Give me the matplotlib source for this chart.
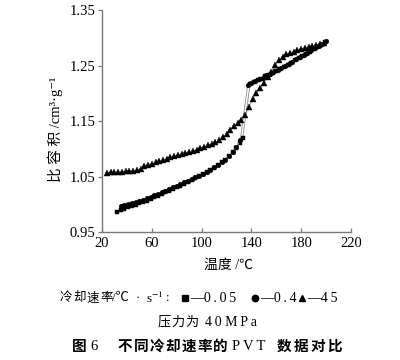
import matplotlib
matplotlib.use('Agg')
import matplotlib.pyplot as plt
from matplotlib.lines import Line2D

# ---------------- data ----------------
sq_T = [32, 35, 38, 41, 44, 47, 50, 53, 56, 59, 62, 65, 68, 71, 74, 77, 80, 83, 86, 89,
        92, 95, 98, 101, 104, 107, 110, 113, 116, 119, 122, 125, 128, 131, 133,
        139, 142, 145, 148, 151, 154, 157, 160, 163, 166, 169, 172, 175, 178, 181,
        184, 187, 190, 193, 196, 199]
sq_V = [0.987, 0.990, 0.992, 0.995, 0.997, 1.000, 1.002, 1.005, 1.007, 1.010, 1.013, 1.016,
        1.019, 1.022, 1.025, 1.028, 1.031, 1.034, 1.037, 1.041, 1.044, 1.048, 1.051, 1.055,
        1.058, 1.062, 1.066, 1.071, 1.076, 1.081, 1.087, 1.094, 1.102, 1.111, 1.120,
        1.218, 1.221, 1.224, 1.227, 1.231, 1.234, 1.238, 1.241, 1.245, 1.248, 1.252,
        1.256, 1.260, 1.264, 1.268, 1.272, 1.276, 1.280, 1.284, 1.288, 1.293]

ci_T = [35, 38, 41, 44, 47, 50, 53, 56, 59, 62, 65, 68, 71, 74, 77, 80, 83, 86, 89, 92,
        95, 98, 101, 104, 107, 110, 113, 116, 119, 122, 125, 128, 131,
        137, 140, 143, 146, 149, 152, 155, 158, 161, 164, 167, 170, 173, 176, 179,
        182, 185, 188, 191, 194, 197, 200]
ci_V = [0.997, 0.999, 1.001, 1.003, 1.005, 1.007, 1.009, 1.011, 1.014, 1.017, 1.019, 1.022,
        1.025, 1.028, 1.031, 1.034, 1.037, 1.040, 1.043, 1.046, 1.049, 1.052, 1.056, 1.059,
        1.063, 1.067, 1.071, 1.076, 1.081, 1.087, 1.094, 1.103, 1.116,
        1.216, 1.220, 1.223, 1.226, 1.229, 1.233, 1.236, 1.240, 1.243, 1.247, 1.250,
        1.254, 1.258, 1.262, 1.266, 1.270, 1.274, 1.278, 1.282, 1.286, 1.290, 1.295]

tr_T = [24, 27, 30, 33, 36, 39, 42, 45, 48, 51, 54, 57, 60, 63, 66, 69, 72, 75, 78, 81,
        84, 87, 90, 93, 96, 99, 102, 105, 108, 111, 114, 117, 120, 123, 126, 129, 132,
        135, 138, 141, 144, 147, 150, 153, 156, 159, 162, 165, 168, 171, 174, 177, 180,
        183, 186, 189, 192, 195, 198]
tr_V = [1.057, 1.058, 1.058, 1.059, 1.059, 1.060, 1.061, 1.061, 1.062, 1.064,
        1.070, 1.072, 1.074, 1.076, 1.078, 1.080, 1.082, 1.085, 1.087, 1.089,
        1.091, 1.093, 1.095, 1.097, 1.099, 1.102, 1.104, 1.107, 1.109, 1.112,
        1.116, 1.122, 1.127, 1.134, 1.141, 1.147, 1.153, 1.161, 1.176, 1.190,
        1.201, 1.210, 1.220, 1.230, 1.239, 1.251, 1.261, 1.266, 1.271, 1.274,
        1.276, 1.279, 1.281, 1.283, 1.285, 1.286, 1.288, 1.290, 1.292]

x_ticks = [20, 60, 100, 140, 180, 220]
y_ticks = [0.95, 1.05, 1.15, 1.25, 1.35]
y_tick_labels = ['0.95', '1.05', '1.15', '1.25', '1.35']
rate_labels = ['0.05', '0.4', '45']

# ---------------- style ----------------
W, H, DPI = 400, 360, 100
SERIF = ['Liberation Serif', 'Noto Sans CJK SC', 'DejaVu Sans']
CJK = ['Noto Sans CJK SC', 'Liberation Serif', 'DejaVu Sans']
plt.rcParams['font.family'] = SERIF
plt.rcParams['mathtext.fontset'] = 'stix'

fig = plt.figure(figsize=(W / DPI, H / DPI), dpi=DPI)
ax = fig.add_axes([102 / W, 1 - 232.3 / H, 249 / W, 221.8 / H])

line_kw = dict(color='#8c8c8c', lw=0.6, mfc='k', mec='k', mew=0.3)
ax.plot(sq_T, sq_V, marker='s', ms=3.0, **line_kw)
ax.plot(ci_T, ci_V, marker='o', ms=3.4, **line_kw)
ax.plot(tr_T, tr_V, marker='^', ms=3.8, **line_kw)

ax.set_xlim(20, 220)
ax.set_ylim(0.95, 1.35)
ax.set_xticks(x_ticks)
ax.set_xticklabels([str(v) for v in x_ticks])
ax.set_yticks(y_ticks)
ax.set_yticklabels(y_tick_labels)

for s in ('top', 'right'):
    ax.spines[s].set_visible(False)
for s in ('left', 'bottom'):
    ax.spines[s].set_color('#7a7a7a')
    ax.spines[s].set_linewidth(1.0)

ax.tick_params(axis='y', direction='out', length=3, width=0.9, color='#7a7a7a',
               pad=1.5, labelsize=10.5)
ax.tick_params(axis='x', direction='in', length=3, width=0.9, color='#7a7a7a',
               pad=3.5, labelsize=10.5)

ax.set_xlabel('温度 /℃', fontsize=10)
ax.xaxis.set_label_coords((228 - 102) / 249, (232.3 - 265) / 221.8)
ax.xaxis.label.set_va('center')
ax.set_ylabel('比 容 积 /cm³·g⁻¹', fontsize=10.5)
ax.yaxis.set_label_coords((55 - 102) / 249, (232.3 - 129) / 221.8)
ax.yaxis.label.set_va('center')

# ---------------- legend / caption rows ----------------
renderer = fig.canvas.get_renderer()
TS = '\u2009'  # thin space used as letter spacing


def tracked(x, y, s, size, fam, track=0.0, weight='normal'):
    cx = x
    for ch in s:
        t = fig.text(cx / W, 1 - y / H, ch, fontsize=size, family=fam,
                     weight=weight, ha='left', va='center')
        w = t.get_window_extent(renderer).width
        cx += w + track
    return cx


def spaced(s):
    return TS.join(s)


def marker(x, y, m, ms):
    fig.add_artist(Line2D([x / W], [1 - y / H], marker=m, ms=ms, color='k',
                          mfc='k', mec='k', ls='none', transform=fig.transFigure))


ly = 298
tracked(60, ly, '冷却速率', 9, CJK, track=1.0)
fig.text(112 / W, 1 - ly / H, '/℃', fontsize=9.5, ha='left', va='center')
fig.text(138 / W, 1 - ly / H, '·', fontsize=9, ha='center', va='center')
fig.text(146 / W, 1 - ly / H, 's$^{-1}$', fontsize=9.5, ha='left', va='center')
fig.text(166 / W, 1 - ly / H, ':', fontsize=9, ha='left', va='center')
marker(185, ly, 's', 4.2)
fig.text(190 / W, 1 - ly / H, '—' + spaced(rate_labels[0]), fontsize=10,
         ha='left', va='center')
marker(255, ly, 'o', 4.6)
fig.text(260 / W, 1 - ly / H, '—' + spaced(rate_labels[1]), fontsize=10,
         ha='left', va='center')
marker(302, ly, '^', 4.8)
fig.text(307 / W, 1 - ly / H, '—' + spaced(rate_labels[2]), fontsize=10,
         ha='left', va='center')

ry = 322
tracked(158, ry, '压力为', 9.5, CJK, track=0.5)
fig.text(205 / W, 1 - ry / H, spaced('40') + ' ' + spaced('MPa'), fontsize=10,
         ha='left', va='center')

cy = 346
tracked(72, cy, '图', 10.5, CJK, weight='bold')
fig.text(90 / W, 1 - cy / H, '6', fontsize=10.5, ha='left', va='center')
tracked(118, cy, '不同冷却速率的', 10.5, CJK, track=1.2, weight='bold')
fig.text(232 / W, 1 - cy / H, spaced('PVT'), fontsize=10.5, ha='left', va='center')
tracked(277, cy, '数据对比', 10.5, CJK, track=2, weight='bold')

fig.savefig('out.png', dpi=DPI)
